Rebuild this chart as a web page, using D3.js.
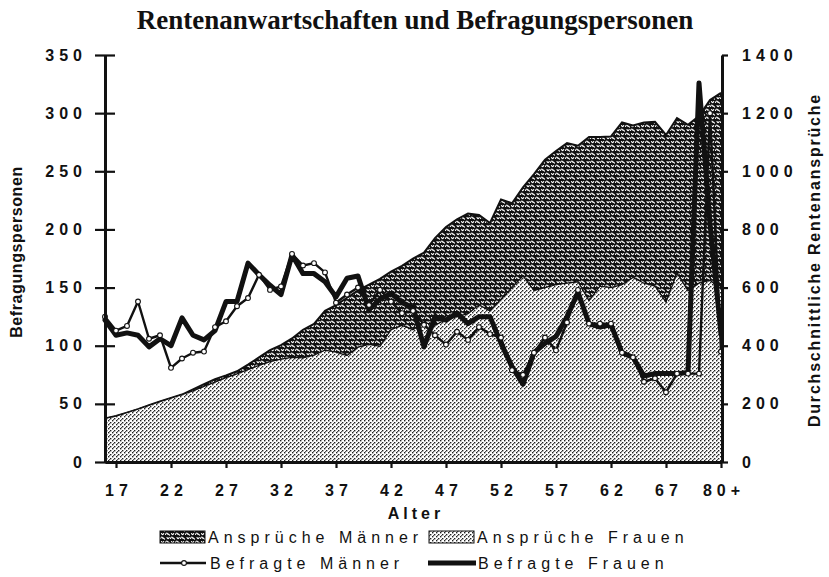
<!DOCTYPE html>
<html>
<head>
<meta charset="UTF-8">
<title>Rentenanwartschaften und Befragungspersonen</title>
<script src="https://d3js.org/d3.v7.min.js"></script>
<style>
body { margin: 0; background: #fff; }
svg text { font-family: "Liberation Sans", Arial, sans-serif; fill: #111; }
</style>
</head>
<body>
<svg id="chart" width="829" height="577"></svg>
<script>
// categories (first point sits on the axis, first label is 17)
const ages = ["16","17","18","19","20","21","22","23","24","25","26","27","28","29","30",
  "31","32","33","34","35","36","37","38","39","40","41","42","43","44","45","46","47",
  "48","49","50","51","52","53","54","55","56","57","58","59","60","61","62","63","64",
  "65","66","67","68","69","70","71","80+"];
const tickLabels = ["17","22","27","32","37","42","47","52","57","62","67","80+"];

// right axis: average pension claims
const anspruecheMaenner = [150,158,170,182,195,208,220,232,250,268,
  285,298,312,335,360,385,402,425,455,475,
  520,540,565,590,610,630,655,675,700,720,
  770,808,835,855,850,822,903,890,945,990,
  1040,1070,1097,1088,1118,1118,1120,1168,1158,1168,
  1170,1125,1183,1160,1190,1245,1270];
const anspruecheFrauen = [150,158,170,182,195,208,220,232,245,260,
  275,290,303,318,332,345,354,360,358,368,
  385,378,366,395,405,398,455,470,455,480,
  470,490,500,510,540,520,560,600,640,590,
  600,610,615,620,555,605,600,610,635,615,
  605,550,650,590,615,625,595];

// left axis: respondents
const befragteMaenner = [125,113,117,138,106,109,81,89,94,95,
  116,121,134,141,161,148,151,179,169,171,
  163,137,144,150,135,148,138,128,130,118,
  109,101,112,105,116,110,107,79,75,94,
  107,96,120,148,119,119,119,94,90,69,
  72,60,76,76,76,300,95];
const befragteFrauen = [122,109,111,109,99,106,100,124,109,105,
  113,138,138,171,161,152,144,178,162,162,
  155,142,158,160,131,140,145,137,133,99,
  125,122,128,119,125,125,102,82,67,94,
  102,108,125,146,119,116,118,94,90,74,
  76,76,76,77,326,205,110];

const svg = d3.select("#chart");

const x = d3.scalePoint().domain(ages).range([105, 721]);
const yL = d3.scaleLinear().domain([0, 350]).range([462, 55]);
const yR = d3.scaleLinear().domain([0, 1400]).range([462, 55]);

// fill patterns
const defs = svg.append("defs");
let pm = defs.append("pattern").attr("id", "dark")
    .attr("patternUnits", "userSpaceOnUse").attr("width", 10).attr("height", 8);
pm.append("rect").attr("width", 10).attr("height", 8).attr("fill", "#111");
pm.append("path")
    .attr("d", "M0.5,2.5 c0.8,-2 1.8,-2 2.5,0 M3.5,2 l1,1.2 M5.5,6.5 c0.8,-2 1.8,-2 2.5,0 " +
               "M8.5,6 l1,1.2 M7,1.5 c0.6,1.5 1.6,1.5 2.2,0 M1.5,5.5 c0.6,1.5 1.6,1.5 2.2,0")
    .attr("fill", "none").attr("stroke", "#fff").attr("stroke-width", 1.1)
    .attr("stroke-linecap", "round");

let pf = defs.append("pattern").attr("id", "light")
    .attr("patternUnits", "userSpaceOnUse").attr("width", 4).attr("height", 4);
pf.append("rect").attr("width", 4).attr("height", 4).attr("fill", "#fff");
pf.append("rect").attr("x", 0).attr("y", 0).attr("width", 1.4).attr("height", 1.4).attr("fill", "#222");
pf.append("rect").attr("x", 2).attr("y", 2).attr("width", 1.4).attr("height", 1.4).attr("fill", "#222");
pf.append("rect").attr("x", 1).attr("y", 3).attr("width", 1).attr("height", 1).attr("fill", "#555");

// areas
const areaGen = vals => d3.area()
    .x((d, i) => x(ages[i]))
    .y0(yR(0))
    .y1(d => yR(d))(vals);
const topGen = d3.line().x((d, i) => x(ages[i])).y(d => yR(d));

svg.append("path").attr("d", areaGen(anspruecheMaenner)).attr("fill", "url(#dark)");
svg.append("path").attr("d", topGen(anspruecheMaenner))
    .attr("fill", "none").attr("stroke", "#111").attr("stroke-width", 2);
svg.append("path").attr("d", areaGen(anspruecheFrauen)).attr("fill", "url(#light)");
svg.append("path").attr("d", topGen(anspruecheFrauen))
    .attr("fill", "none").attr("stroke", "#111").attr("stroke-width", 1.3);

// lines
const lineL = d3.line().x((d, i) => x(ages[i])).y(d => yL(d));
svg.append("path").attr("d", lineL(befragteFrauen))
    .attr("fill", "none").attr("stroke", "#111").attr("stroke-width", 5)
    .attr("stroke-linejoin", "round").attr("stroke-linecap", "round");
svg.append("path").attr("d", lineL(befragteMaenner))
    .attr("fill", "none").attr("stroke", "#111").attr("stroke-width", 2.4)
    .attr("stroke-linejoin", "round");
svg.append("g").selectAll("circle")
    .data(befragteMaenner)
    .enter().append("circle")
    .attr("cx", (d, i) => x(ages[i]))
    .attr("cy", d => yL(d))
    .attr("r", 2.4)
    .attr("fill", "#fff").attr("stroke", "#111").attr("stroke-width", 1.1);

// axes
const tickFont = g => g.selectAll("text")
    .style("font-size", "16px").style("font-weight", "bold")
    .style("letter-spacing", "5px").attr("fill", "#111");

let ax = svg.append("g").attr("transform", "translate(105,0)")
    .call(d3.axisLeft(yL).tickValues(d3.range(0, 351, 50)).tickSize(10).tickSizeOuter(0).tickPadding(8));
ax.call(tickFont);
ax.selectAll(".tick line").attr("x1", 10).attr("stroke-width", 2.2);
ax.select(".domain").attr("stroke-width", 3);

let axR = svg.append("g").attr("transform", "translate(722,0)")
    .call(d3.axisRight(yR).tickValues(d3.range(0, 1401, 200)).tickFormat(d3.format("d"))
        .tickSize(6).tickSizeOuter(0).tickPadding(14));
axR.call(tickFont);
axR.selectAll(".tick line").attr("stroke-width", 2.2);
axR.select(".domain").attr("stroke-width", 3);

let axB = svg.append("g").attr("transform", "translate(0,462)")
    .call(d3.axisBottom(x).tickValues(tickLabels).tickSize(6).tickSizeOuter(0).tickPadding(17));
axB.call(tickFont);
axB.selectAll("text").attr("dx", "2.5px");
axB.selectAll(".tick line").attr("stroke-width", 2.2);
axB.select(".domain").attr("stroke-width", 3);
svg.selectAll(".domain").attr("stroke", "#111");
svg.selectAll(".tick line").attr("stroke", "#111");

// titles
svg.append("text").attr("x", 415).attr("y", 29)
    .attr("text-anchor", "middle")
    .style("font-family", "'Liberation Serif', 'Times New Roman', serif")
    .style("font-size", "27px").style("font-weight", "bold")
    .text("Rentenanwartschaften und Befragungspersonen");

svg.append("text").attr("transform", "translate(22,252) rotate(-90)")
    .attr("text-anchor", "middle")
    .style("font-size", "16px").style("font-weight", "bold").style("letter-spacing", "0.6px")
    .text("Befragungspersonen");

svg.append("text").attr("transform", "translate(820,260) rotate(-90)")
    .attr("text-anchor", "middle")
    .style("font-size", "16px").style("font-weight", "bold").style("letter-spacing", "1.8px")
    .text("Durchschnittliche Rentenansprüche");

svg.append("text").attr("x", 416).attr("y", 519)
    .attr("text-anchor", "middle")
    .style("font-size", "16px").style("font-weight", "bold").style("letter-spacing", "4px")
    .text("Alter");

// legend
const legendNames = ["Ansprüche Männer", "Ansprüche Frauen", "Befragte Männer", "Befragte Frauen"];
const legendPos = [[160, 537], [429, 537], [160, 563], [428, 563]];
const lg = svg.append("g");
legendNames.forEach((name, i) => {
    const [lx, ly] = legendPos[i];
    if (i < 2) {
        lg.append("rect").attr("x", lx).attr("y", ly - 6).attr("width", 45).attr("height", 12)
            .attr("fill", i === 0 ? "url(#dark)" : "url(#light)")
            .attr("stroke", "#111").attr("stroke-width", 1);
    } else if (i === 2) {
        lg.append("line").attr("x1", lx).attr("x2", lx + 46).attr("y1", ly).attr("y2", ly)
            .attr("stroke", "#111").attr("stroke-width", 2.4);
        lg.append("circle").attr("cx", lx + 24).attr("cy", ly).attr("r", 2.4)
            .attr("fill", "#fff").attr("stroke", "#111").attr("stroke-width", 1.1);
    } else {
        lg.append("line").attr("x1", lx).attr("x2", lx + 48).attr("y1", ly).attr("y2", ly)
            .attr("stroke", "#111").attr("stroke-width", 5);
    }
    lg.append("text").attr("x", lx + (i < 2 ? 48 : 50)).attr("y", ly + 6)
        .style("font-size", "16px").style("letter-spacing", "5px")
        .text(name);
});
</script>
</body>
</html>
